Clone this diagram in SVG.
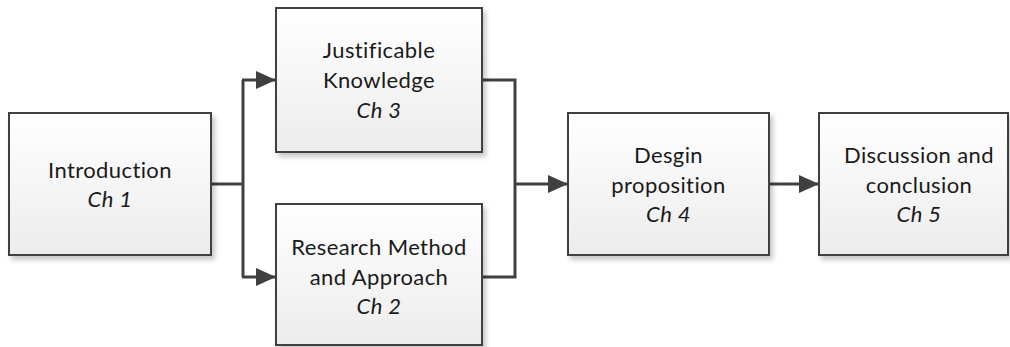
<svg xmlns="http://www.w3.org/2000/svg" width="1010" height="347" viewBox="0 0 1010 347">
  <defs>
    <linearGradient id="boxFill" x1="0" y1="0" x2="0" y2="1">
      <stop offset="0" stop-color="#ffffff"/>
      <stop offset="1" stop-color="#ececec"/>
    </linearGradient>
    <filter id="shadow" x="-10%" y="-10%" width="125%" height="125%">
      <feDropShadow dx="3" dy="4" stdDeviation="2.5" flood-color="#000000" flood-opacity="0.22"/>
    </filter>
    <marker id="arrow" viewBox="0 0 20 18" refX="20" refY="9" markerWidth="20" markerHeight="18" markerUnits="userSpaceOnUse" orient="auto">
      <path d="M0,0 L20,9 L0,18 Z" fill="#404040"/>
    </marker>
    <style>
      .box { fill: url(#boxFill); stroke: #404040; stroke-width: 2; filter: url(#shadow); }
      .lbl { font-family: Lato, "Liberation Sans", sans-serif; font-size: 22px; fill: #1a1a1a; text-anchor: middle; letter-spacing: 0.4px; }
      .it { font-style: italic; }
      .conn { fill: none; stroke: #404040; stroke-width: 3; }
    </style>
  </defs>

  <g id="connectors">
    <path class="conn" d="M211,184 H243"/>
    <path class="conn" d="M243,80 V277"/>
    <path class="conn" d="M242,80 H276" marker-end="url(#arrow)"/>
    <path class="conn" d="M242,277 H276" marker-end="url(#arrow)"/>
    <path class="conn" d="M482,80 H515 V277 H482"/>
    <path class="conn" d="M515,184 H568" marker-end="url(#arrow)"/>
    <path class="conn" d="M769,184 H819" marker-end="url(#arrow)"/>
  </g>

  <g id="node-introduction">
    <rect class="box" x="9" y="113" width="202" height="142"/>
    <text class="lbl" x="110" y="178">Introduction</text>
    <text class="lbl it" x="110" y="207">Ch 1</text>
  </g>

  <g id="node-justifiable">
    <rect class="box" x="276" y="8" width="206" height="144"/>
    <text class="lbl" x="379" y="58">Justificable</text>
    <text class="lbl" x="379" y="88">Knowledge</text>
    <text class="lbl it" x="379" y="118">Ch 3</text>
  </g>

  <g id="node-research">
    <rect class="box" x="276" y="204" width="206" height="141"/>
    <text class="lbl" x="379" y="255">Research Method</text>
    <text class="lbl" x="379" y="285">and Approach</text>
    <text class="lbl it" x="379" y="314">Ch 2</text>
  </g>

  <g id="node-design">
    <rect class="box" x="568" y="113" width="201" height="142"/>
    <text class="lbl" x="668.5" y="163">Desgin</text>
    <text class="lbl" x="668.5" y="193">proposition</text>
    <text class="lbl it" x="668.5" y="222">Ch 4</text>
  </g>

  <g id="node-discussion">
    <rect class="box" x="819" y="113" width="189" height="142"/>
    <text class="lbl" x="919" y="163">Discussion and</text>
    <text class="lbl" x="919" y="193">conclusion</text>
    <text class="lbl it" x="919" y="222">Ch 5</text>
  </g>
</svg>
